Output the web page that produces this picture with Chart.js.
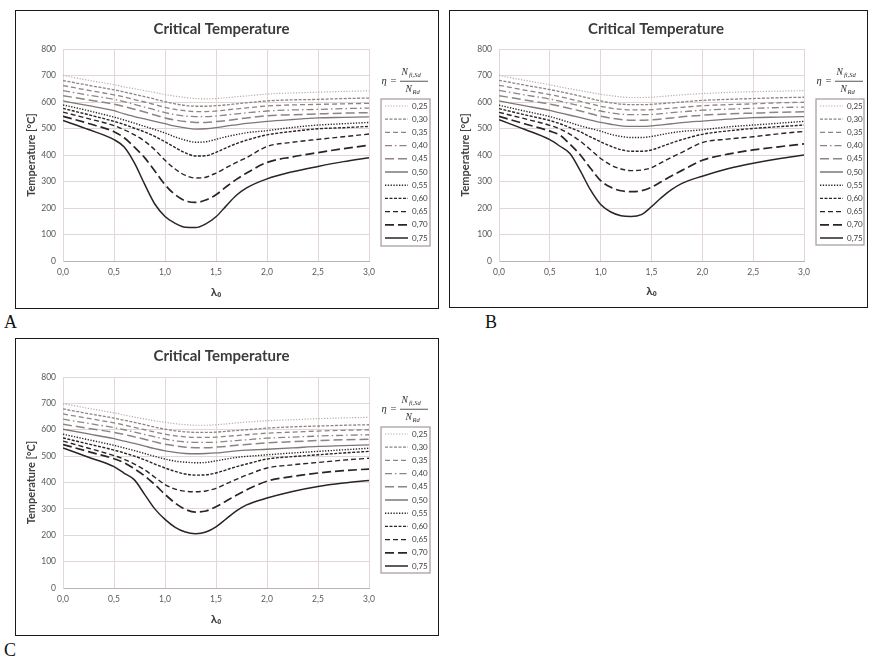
<!DOCTYPE html>
<html><head><meta charset="utf-8">
<script src="https://cdn.jsdelivr.net/npm/chart.js@4.4.1/dist/chart.umd.min.js"></script>
<style>
html,body{margin:0;padding:0;background:#fff;}
body{width:874px;height:660px;position:relative;overflow:hidden;}
.box{position:absolute;border:1px solid #1a1a1a;background:#fff;}
.box canvas{display:block;}
.lbl{position:absolute;font-family:"Liberation Serif","DejaVu Serif",serif;font-size:18px;color:#111;line-height:1;}
</style></head><body>
<div class="box" style="left:15px;top:10px;width:422px;height:297px;"><canvas id="cA" width="422" height="297"></canvas></div>
<div class="box" style="left:449px;top:10px;width:417px;height:296px;"><canvas id="cB" width="417" height="296"></canvas></div>
<div class="box" style="left:15px;top:338px;width:422px;height:296px;"><canvas id="cC" width="422" height="296"></canvas></div>
<div class="lbl" style="left:4px;top:313px;">A</div>
<div class="lbl" style="left:485px;top:313px;">B</div>
<div class="lbl" style="left:4px;top:641px;">C</div>
<script>
// ---- data ----
const TITLE = 'Critical Temperature';
const Y_TITLE = 'Temperature [°C]';
const X_TITLE = 'λ₀';
const X_VALUES = [0, 0.25, 0.5, 0.6, 0.7, 0.8, 0.9, 1.0, 1.1, 1.2, 1.3, 1.4, 1.5, 1.6, 1.7, 1.8, 2.0, 2.25, 2.5, 2.75, 3.0];
const X_TICK_LABELS = ['0,0', '0,5', '1,0', '1,5', '2,0', '2,5', '3,0'];
const ETA_LABELS = ['0,25', '0,30', '0,35', '0,40', '0,45', '0,50', '0,55', '0,60', '0,65', '0,70', '0,75'];

// Chart A
const A_025 = [700, 682, 665, 657, 650, 643, 636, 628, 622, 617, 613, 612, 613, 616, 620, 623, 630, 634, 637, 640, 642];
const A_030 = [681, 663, 646, 638, 629, 620, 611, 601, 593, 587, 584, 584, 586, 589, 593, 597, 604, 608, 610, 613, 615];
const A_035 = [662, 644, 627, 619, 609, 600, 590, 580, 572, 567, 564, 564, 566, 570, 574, 578, 585, 589, 591, 593, 595];
const A_040 = [643, 626, 610, 601, 591, 581, 570, 560, 552, 547, 545, 545, 547, 551, 555, 559, 566, 570, 572, 575, 577];
const A_045 = [624, 608, 592, 583, 573, 562, 551, 540, 532, 526, 523, 523, 526, 530, 535, 540, 548, 552, 555, 558, 560];
const A_050 = [604, 586, 567, 555, 545, 536, 527, 518, 509, 502, 498, 499, 503, 509, 514, 519, 527, 534, 540, 542, 544];
const A_055 = [589, 567, 543, 532, 520, 508, 496, 483, 468, 456, 448, 450, 459, 469, 477, 484, 492, 504, 513, 518, 523];
const A_060 = [576, 552, 527, 515, 501, 487, 470, 450, 428, 408, 396, 397, 410, 427, 443, 456, 476, 489, 499, 503, 508];
const A_065 = [562, 537, 511, 495, 476, 452, 420, 380, 347, 323, 313, 316, 332, 352, 372, 390, 432, 448, 459, 469, 479];
const A_070 = [546, 519, 488, 465, 430, 390, 340, 288, 250, 227, 221, 230, 250, 280, 308, 332, 372, 393, 409, 424, 437];
const A_075 = [530, 496, 458, 430, 370, 290, 215, 168, 142, 127, 126, 140, 167, 208, 248, 276, 310, 337, 357, 375, 390];
const SERIES_A = [A_025, A_030, A_035, A_040, A_045, A_050, A_055, A_060, A_065, A_070, A_075];

// Chart B
const B_025 = [700, 682, 665, 657, 650, 643, 636, 629, 624, 619, 617, 617, 618, 621, 624, 627, 632, 636, 639, 641, 643];
const B_030 = [682, 664, 647, 639, 631, 622, 613, 604, 597, 592, 590, 590, 591, 594, 597, 600, 606, 610, 613, 616, 618];
const B_035 = [663, 645, 628, 620, 611, 602, 593, 584, 577, 572, 570, 570, 571, 574, 577, 580, 586, 590, 593, 597, 599];
const B_040 = [644, 627, 611, 603, 594, 585, 575, 566, 559, 554, 552, 552, 553, 556, 560, 563, 569, 573, 576, 579, 581];
const B_045 = [624, 608, 592, 584, 575, 566, 556, 546, 539, 534, 531, 531, 533, 536, 540, 544, 550, 555, 558, 561, 563];
const B_050 = [604, 586, 568, 559, 550, 541, 532, 523, 516, 510, 508, 508, 510, 514, 518, 522, 528, 535, 541, 543, 545];
const B_055 = [588, 566, 545, 534, 522, 510, 500, 490, 478, 470, 466, 466, 470, 477, 484, 489, 495, 506, 513, 520, 527];
const B_060 = [575, 552, 530, 518, 503, 487, 468, 450, 433, 420, 414, 414, 419, 432, 446, 458, 478, 491, 500, 507, 513];
const B_065 = [561, 537, 512, 498, 478, 452, 420, 387, 362, 347, 341, 343, 352, 372, 392, 410, 447, 460, 469, 480, 489];
const B_070 = [546, 518, 490, 475, 440, 400, 350, 303, 278, 265, 262, 265, 278, 300, 322, 342, 380, 403, 419, 431, 442];
const B_075 = [533, 497, 458, 433, 405, 340, 268, 213, 185, 171, 168, 175, 205, 240, 270, 293, 320, 348, 369, 386, 400];
const SERIES_B = [B_025, B_030, B_035, B_040, B_045, B_050, B_055, B_060, B_065, B_070, B_075];

// Chart C
const C_025 = [699, 681, 664, 656, 648, 641, 634, 628, 623, 619, 617, 617, 619, 622, 626, 629, 634, 638, 642, 645, 647];
const C_030 = [679, 661, 644, 636, 628, 619, 610, 602, 596, 592, 590, 590, 591, 594, 597, 600, 606, 611, 614, 617, 619];
const C_035 = [660, 643, 626, 618, 609, 600, 591, 583, 577, 573, 571, 571, 572, 575, 578, 581, 587, 591, 595, 598, 600];
const C_040 = [640, 624, 608, 600, 591, 582, 573, 565, 558, 554, 552, 552, 553, 556, 559, 562, 568, 572, 576, 579, 581];
const C_045 = [621, 605, 590, 582, 573, 564, 554, 545, 539, 534, 532, 532, 534, 537, 541, 544, 550, 555, 559, 562, 564];
const C_050 = [602, 584, 566, 557, 548, 538, 528, 520, 514, 510, 509, 510, 512, 516, 520, 523, 526, 531, 537, 540, 543];
const C_055 = [583, 562, 541, 531, 521, 510, 499, 489, 481, 477, 475, 476, 482, 489, 495, 499, 505, 512, 518, 524, 530];
const C_060 = [569, 546, 523, 512, 500, 486, 470, 455, 442, 432, 428, 429, 436, 448, 460, 470, 489, 498, 505, 512, 518];
const C_065 = [557, 530, 502, 488, 470, 448, 420, 392, 375, 367, 365, 368, 378, 395, 412, 428, 455, 467, 476, 485, 492];
const C_070 = [544, 517, 490, 475, 452, 425, 392, 355, 322, 298, 288, 292, 308, 330, 352, 372, 405, 423, 436, 445, 451];
const C_075 = [531, 496, 460, 435, 410, 355, 300, 260, 230, 212, 206, 212, 232, 262, 292, 315, 341, 366, 385, 398, 408];
const SERIES_C = [C_025, C_030, C_035, C_040, C_045, C_050, C_055, C_060, C_065, C_070, C_075];

// ---- styles ----
const FONT = 'Lato, "DejaVu Sans", sans-serif';
const GRID = '#e3d6d6';
const STYLES = [
  {color: '#b7aaaa', width: 1.2, dash: [1.2, 1.6]},
  {color: '#8e8484', width: 1.3, dash: [3, 1.5]},
  {color: '#8e8484', width: 1.3, dash: [5, 3]},
  {color: '#8e8484', width: 1.3, dash: [7, 3, 1.5, 3]},
  {color: '#8e8484', width: 1.5, dash: [9, 4]},
  {color: '#7f7676', width: 1.3, dash: []},
  {color: '#2a2424', width: 1.4, dash: [1.3, 1.5]},
  {color: '#2a2424', width: 1.4, dash: [3, 1.5]},
  {color: '#2a2424', width: 1.4, dash: [5, 3]},
  {color: '#2a2424', width: 1.7, dash: [9, 4]},
  {color: '#2a2424', width: 1.5, dash: []}
];
const LEG_PAD = 5.2;
const TITLE_SIZE = 15;

function genLabels(chart) {
  const items = Chart.defaults.plugins.legend.labels.generateLabels(chart);
  items.forEach((it, i) => {
    const ds = chart.data.datasets[it.datasetIndex !== undefined ? it.datasetIndex : i];
    it.lineDash = ds.borderDash || [];
    it.lineWidth = ds.borderWidth;
    it.strokeStyle = ds.borderColor;
    it.fillStyle = 'rgba(0,0,0,0)';
    it.pointStyle = 'line';
    it.lineCap = 'butt';
  });
  return items;
}

function drawEquation(ctx, L, T) {
  ctx.save();
  ctx.fillStyle = '#2e2e2e';
  ctx.textBaseline = 'middle';
  ctx.textAlign = 'left';
  const serif = '"Liberation Serif", "DejaVu Serif", serif';
  ctx.font = 'italic 10.5px ' + serif;
  ctx.fillText('η', L + 0.5, T - 18);
  ctx.font = '10.5px ' + serif;
  ctx.fillText('=', L + 9.5, T - 18);
  ctx.font = 'italic 9.5px ' + serif;
  ctx.fillText('N', L + 20.5, T - 26.5);
  ctx.font = 'italic 6.5px ' + serif;
  ctx.fillText('fi,Sd', L + 28, T - 23.5);
  ctx.fillRect(L + 19, T - 18.2, 28, 0.8);
  ctx.font = 'italic 9.5px ' + serif;
  ctx.fillText('N', L + 24.5, T - 10);
  ctx.font = 'italic 6.5px ' + serif;
  ctx.fillText('Rd', L + 31.5, T - 7);
  ctx.restore();
}

function placerPlugin(geo) {
  return {
    id: 'placer',
    afterLayout(chart) {
      const lg = chart.legend;
      if (!lg) return;
      const w = lg.width;
      lg.left = geo.lx + 4 - LEG_PAD;
      lg.top = geo.ly + 3 - LEG_PAD;
      lg.right = lg.left + w;
      lg.bottom = geo.H;
      lg.height = lg.bottom - lg.top;
    },
    afterDraw(chart) {
      const ctx = chart.ctx;
      ctx.save();
      ctx.strokeStyle = '#aaa0a0';
      ctx.lineWidth = 1.3;
      ctx.strokeRect(geo.lx, geo.ly, geo.lw, geo.lh);
      ctx.restore();
      drawEquation(ctx, geo.lx, geo.ly);
    }
  };
}

function makeChart(id, series, geo) {
  const datasets = series.map((vals, i) => ({
    label: ETA_LABELS[i],
    data: vals.map((v, j) => ({x: X_VALUES[j], y: v})),
    borderColor: STYLES[i].color,
    borderWidth: STYLES[i].width,
    borderDash: STYLES[i].dash,
    borderCapStyle: 'butt',
    pointRadius: 0,
    pointHoverRadius: 0,
    pointStyle: 'line',
    fill: false,
    cubicInterpolationMode: 'monotone'
  }));
  const lh = TITLE_SIZE * 1.2;
  const titleTop = geo.tc - lh / 2;
  const chart = new Chart(document.getElementById(id), {
    type: 'line',
    data: {datasets},
    options: {
      responsive: false,
      animation: false,
      devicePixelRatio: 1,
      events: [],
      layout: {padding: {left: 0, top: 0, bottom: 0, right: 10}},
      plugins: {
        title: {
          display: true, text: TITLE, color: '#3b3b3b',
          font: {family: FONT, size: TITLE_SIZE, weight: 'bold', lineHeight: 1.2},
          padding: {top: titleTop, bottom: geo.T - titleTop - lh}
        },
        legend: {
          display: true, position: 'right', align: 'start',
          labels: {
            usePointStyle: true, pointStyle: 'line', pointStyleWidth: 23, boxHeight: 8,
            padding: LEG_PAD, color: '#404040',
            font: {family: FONT, size: 8, lineHeight: 1.2},
            generateLabels: genLabels
          }
        },
        tooltip: {enabled: false}
      },
      scales: {
        x: {
          type: 'linear', min: 0, max: 3,
          ticks: {
            stepSize: 0.5, autoSkip: false, maxRotation: 0, padding: 6.5,
            color: '#595959', font: {family: FONT, size: 8.5, lineHeight: 1.2},
            callback: (v) => X_TICK_LABELS[Math.round(v / 0.5)]
          },
          grid: {color: GRID, lineWidth: 1, drawTicks: false},
          border: {display: true, color: '#bcb2b2', width: 1},
          title: {display: true, text: X_TITLE, color: '#404040',
            font: {family: FONT, size: 12, weight: 'bold', lineHeight: 1.2},
            padding: {top: 0, bottom: 9}},
          afterFit: (s) => { s.height = geo.H - geo.B; }
        },
        y: {
          min: 0, max: 800,
          ticks: {
            stepSize: 100, padding: 7, color: '#595959',
            font: {family: FONT, size: 8.5, lineHeight: 1.2}
          },
          grid: {color: GRID, lineWidth: 1, drawTicks: false},
          border: {display: true, color: GRID, width: 1},
          title: {display: true, text: Y_TITLE, color: '#404040',
            font: {family: FONT, size: 11, weight: 'bold', lineHeight: 1.2},
            padding: {top: 9, bottom: 0}},
          afterFit: (s) => { s.width = geo.L; }
        }
      }
    },
    plugins: [placerPlugin(geo)]
  });
  // second pass: make the plot area end exactly at geo.R
  const delta = chart.chartArea.right - geo.R;
  chart.options.layout.padding.right = Math.max(0, 10 + delta);
  chart.update();
  return chart;
}

makeChart('cA', SERIES_A, {W: 422, H: 297, L: 47, R: 353, T: 38, B: 250, tc: 18, lx: 365, ly: 88, lw: 49, lh: 147});
makeChart('cB', SERIES_B, {W: 417, H: 296, L: 49, R: 354, T: 38, B: 250, tc: 18, lx: 366, ly: 88, lw: 48, lh: 146});
makeChart('cC', SERIES_C, {W: 422, H: 296, L: 47, R: 353, T: 38, B: 249, tc: 16.7, lx: 365, ly: 88, lw: 49, lh: 146});
</script>
</body></html>
